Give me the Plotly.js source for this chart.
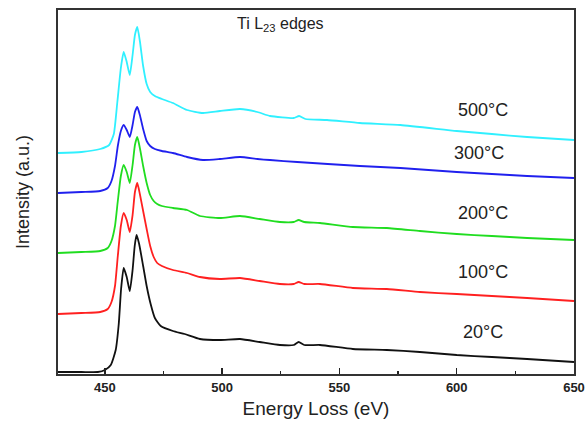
<!DOCTYPE html>
<html>
<head>
<meta charset="utf-8">
<script src="https://cdn.plot.ly/plotly-3.0.1.min.js"></script>
<style>html,body{margin:0;padding:0;background:#fff;}#chart{width:587px;height:432px;}</style>
</head>
<body>
<div id="chart"></div>
<script>
// Energy loss (eV) sample points for each spectrum
const energy20  = [430,440,447,450,452.5,454.6,455.9,456.9,458,459.3,460.6,461.8,462.7,463.5,464.6,466.3,467.8,469.5,471.3,473.8,479,484,490.5,499,507.6,516,524.6,530.5,532.6,535,541.7,555.7,570.2,584.3,600,615,630,650];
const int20     = [2,2,2,4,9,24,50,85,106,97,83,104,128,139,130,108,88,70,56,48,43,40,35,34,35,32,29,29,32,29,29,25,24,22,19,17,15,12];

const energy100 = [430,440,448,451.2,452.8,454.3,455.5,456.8,458,459.3,460.6,461.8,462.8,463.8,464.9,466.3,467.8,469.3,470.8,472.3,474.3,479,485,490.5,499,507.6,516,524.6,530.5,532.6,535,541.7,555.7,570.2,584.3,600,615,630,650];
const int100    = [60,61,62,65,72,88,118,148,161,154,142,159,182,191,180,163,145,128,117,111,108,104,101,97,95,96,93,90,90,92,90,90,86,85,82,80,78,76,73];

const energy200 = [430,440,448,451.2,452.8,454.3,455.5,456.8,458,459.3,460.6,461.8,462.8,463.8,464.9,466.3,467.8,469.3,470.8,472.3,474.3,479,485,490.5,499,507.6,516,524.6,530.5,532.6,535,541.7,555.7,570.2,584.3,600,615,630,650];
const int200    = [121,122,123,126,133,148,173,198,209,202,191,209,229,237,226,208,191,179,173,170,168,166,164,158,156,158,155,152,152,154,152,151,147,146,143,140,138,136,134];

const energy300 = [430,440,448,451.2,452.8,454.3,455.5,456.8,458,459.3,460.6,461.8,462.8,463.8,464.9,466.3,467.8,469.3,471.3,474.3,479,485,491.8,499,507.6,515,520.4,532,545,558.7,576,600,615,630,650];
const int300    = [181,182,183,186,193,208,228,243,249,244,237,249,262,267,259,245,233,228,225,223,221,217,214,215,217,215,214,212,210,208,206,202,200,198,196];

const energy500 = [430,440,448,451.8,453.8,455.3,456.8,458,459.3,460.6,461.8,462.8,463.8,464.9,466.3,467.8,469.3,471.3,474.3,479,485,491.8,499,507.6,515,520.4,530.5,532.8,535.5,544.7,558.7,576,600,615,630,650];
const int500    = [221,222,225,229,240,272,306,322,312,299,319,339,347,333,308,290,282,278,275,271,264,261,263,265,262,258,256,258,255,254,251,249,243,240,237,234];

const seriesNames  = ["20°C","100°C","200°C","300°C","500°C"];
const seriesColors = ["#111111","#ff2020","#20dd20","#2020ee","#30f0ff"];
const labelX = [611,611,611,609.5,611];
const labelY = [42,102,161,221,264];
const xTicks = [450,500,550,600,650];

const xs = [energy20,energy100,energy200,energy300,energy500];
const ys = [int20,int100,int200,int300,int500];

const traces = xs.map((x,i)=>({
  x: x, y: ys[i], type:'scatter', mode:'lines', name: seriesNames[i],
  line:{color: seriesColors[i], width:1.8, shape:'spline', smoothing:0.5},
  showlegend:false, hoverinfo:'skip'
}));

const annotations = seriesNames.map((n,i)=>({
  x: labelX[i], y: labelY[i], xref:'x', yref:'y', text:n, showarrow:false,
  font:{family:'Liberation Sans, Arial, sans-serif', size:18, color:'#222'}
}));
annotations.push({
  x: 525, y: 350, xref:'x', yref:'y', text:'Ti L<sub>23</sub> edges', showarrow:false,
  font:{family:'Liberation Sans, Arial, sans-serif', size:16, color:'#222'}
});

const layout = {
  width:587, height:432,
  margin:{l:58, r:13, t:10, b:58},
  paper_bgcolor:'#fff', plot_bgcolor:'#fff',
  font:{family:'Liberation Sans, Arial, sans-serif', color:'#222'},
  xaxis:{
    range:[430,650], tickvals:xTicks, ticktext:xTicks.map(String),
    ticks:'inside', ticklen:6, tickwidth:1.5, tickcolor:'#222',
    minor:{dtick:25, tick0:425, ticks:'inside', ticklen:3, tickwidth:1.2, tickcolor:'#222'},
    showline:true, linecolor:'#333', linewidth:2, mirror:true,
    showgrid:false, zeroline:false,
    tickfont:{size:13, weight:'bold', color:'#222'},
    title:{text:'Energy Loss (eV)', font:{size:19, color:'#222'}, standoff:8},
    automargin:false
  },
  yaxis:{
    range:[0,364], showticklabels:false, ticks:'',
    showline:true, linecolor:'#333', linewidth:2, mirror:true,
    showgrid:false, zeroline:false,
    title:{text:'Intensity (a.u.)', font:{size:18, color:'#222'}, standoff:22},
    automargin:false
  },
  annotations: annotations
};

Plotly.newPlot('chart', traces, layout, {staticPlot:true, displayModeBar:false});
</script>
</body>
</html>
